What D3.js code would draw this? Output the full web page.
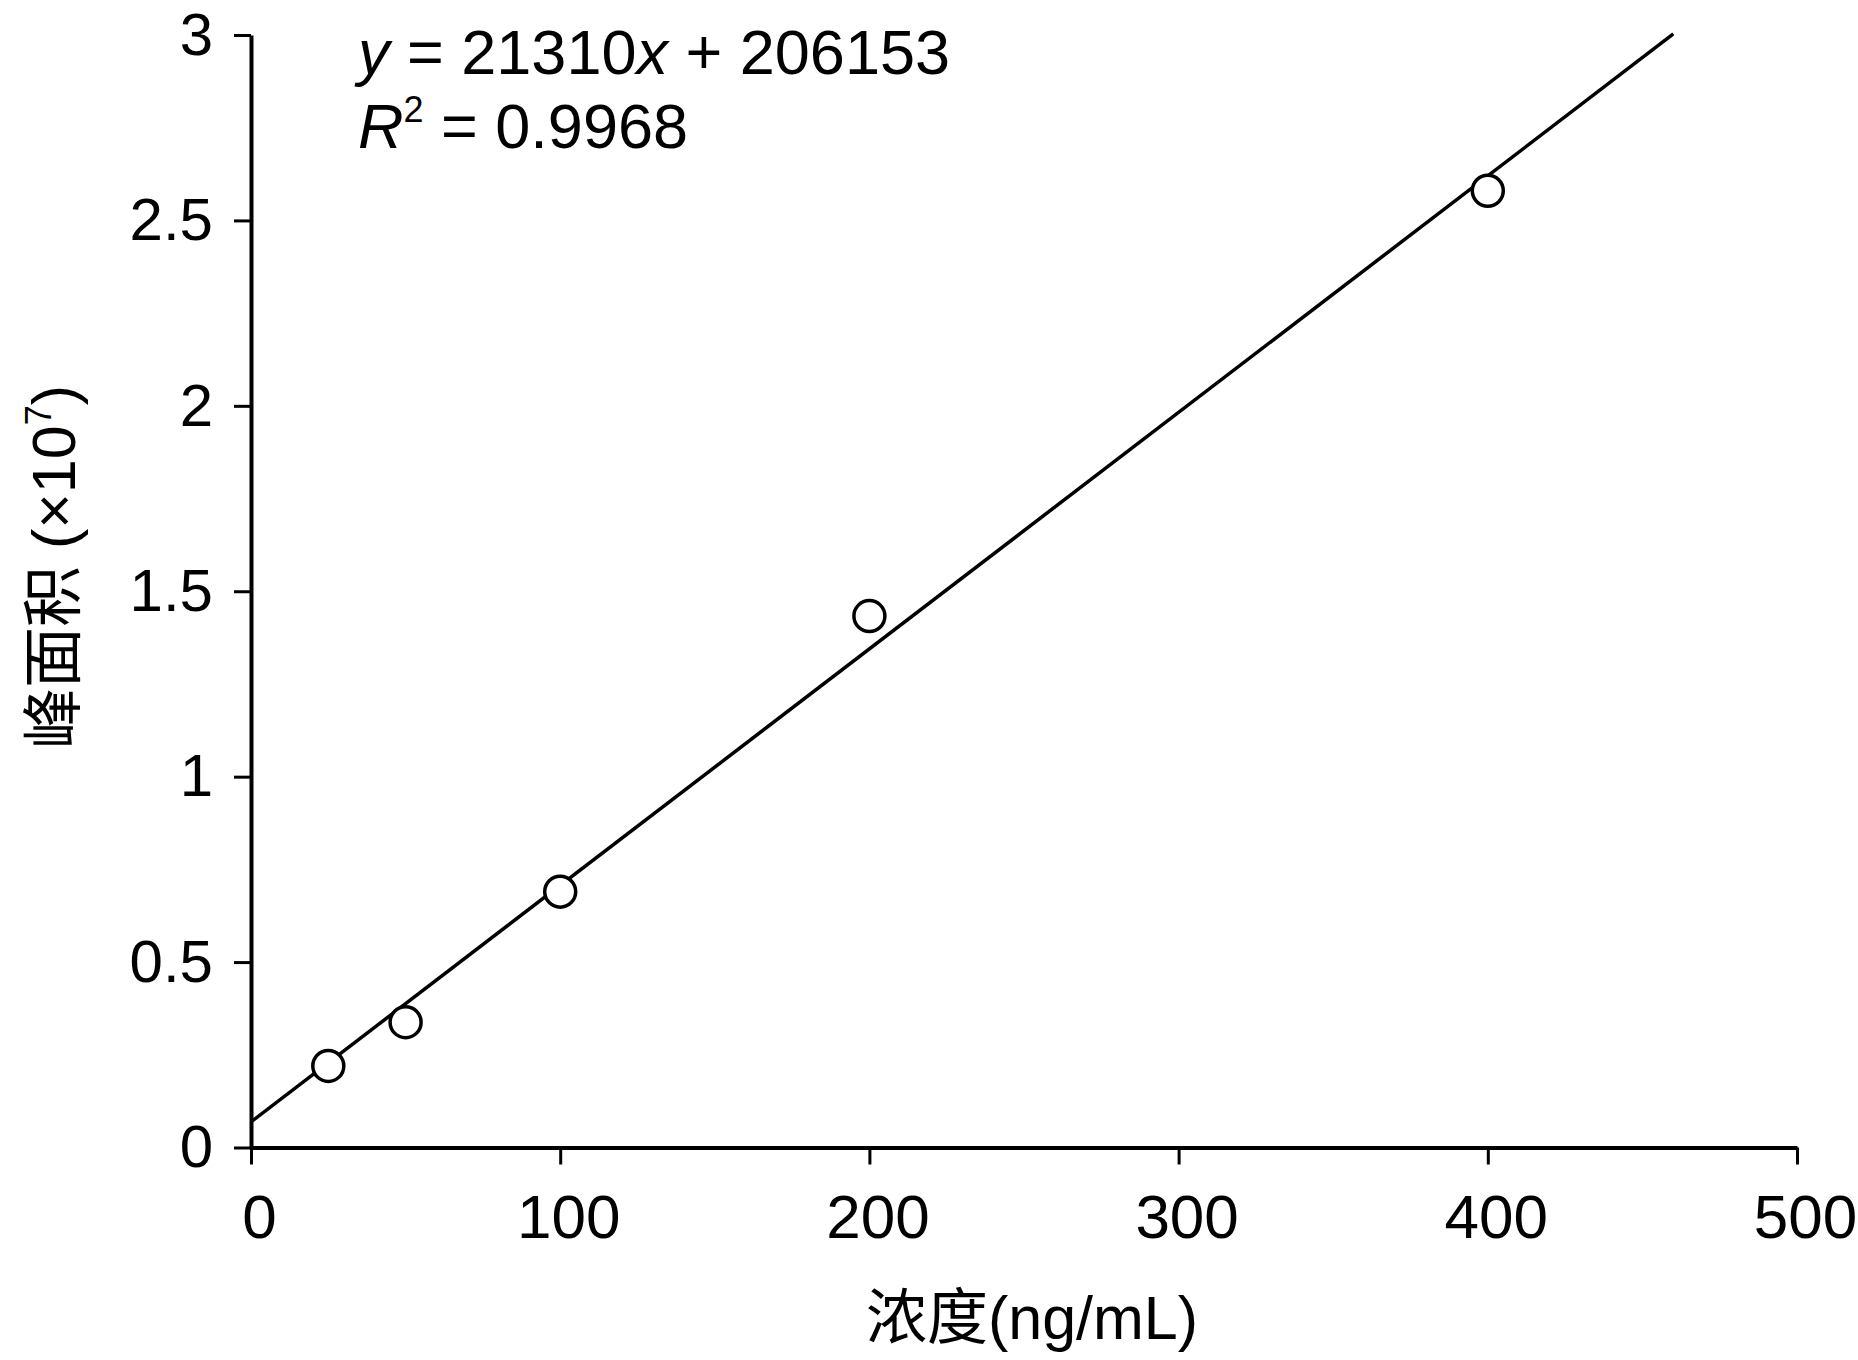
<html>
<head>
  <meta charset="utf-8">
  <script src="https://d3js.org/d3.v7.min.js"></script>
  <style>
    body { margin: 0; background: #fff; }
  </style>
</head>
<body>
<div id="calib"></div>
<script>
  // data (peak area in units of 1e7)
  const concentrations = [25, 50, 100, 200, 400];
  const peakAreas = [0.220, 0.338, 0.690, 1.433, 2.580];
  const xTicks = [0, 100, 200, 300, 400, 500];
  const yTicks = [0, 0.5, 1, 1.5, 2, 2.5, 3];
  // fitted line as drawn (intercept, slope, end of line on x)
  const fitIntercept = 0.069;
  const fitSlope = 0.006378;
  const fitRange = [0, 460];
  const eqText = ["21310", "206153"];
  const r2Text = "0.9968";

  const latin = "'Liberation Sans', Arial, sans-serif";
  const cjk = "'Liberation Sans', 'Noto Sans CJK SC', sans-serif";

  let svg = d3.select("#calib").append("svg").attr("width", 1858).attr("height", 1360);
  let padding = { top: 35, right: 61, bottom: 212.5, left: 251 };
  const width = +svg.attr("width");
  const height = +svg.attr("height");
  const chartRight = width - padding.right;
  const chartBottom = height - padding.bottom;

  let xScale = d3.scaleLinear().domain([0, 500]).range([padding.left, chartRight]);
  let yScale = d3.scaleLinear().domain([0, 3]).range([chartBottom, padding.top]);

  //xAxis
  let bottomAxis = d3.axisBottom(xScale).tickValues(xTicks).tickSize(17).tickSizeOuter(0).tickPadding(29.6);
  let gx = svg.append("g")
     .attr("transform", "translate(0," + chartBottom + ")")
     .call(bottomAxis);
  gx.select(".domain").attr("stroke-width", 4);
  gx.selectAll(".tick line").attr("stroke-width", 3);
  gx.selectAll(".tick text")
    .attr("font-family", latin).attr("font-size", 62).attr("fill", "#000").attr("dx", 8);

  //yAxis
  let leftAxis = d3.axisLeft(yScale).tickValues(yTicks).tickSize(17).tickSizeOuter(0).tickPadding(21)
     .tickFormat(d => String(d));
  let gy = svg.append("g")
     .attr("transform", "translate(" + padding.left + ",0)")
     .call(leftAxis);
  gy.select(".domain").attr("stroke-width", 4);
  gy.selectAll(".tick line").attr("stroke-width", 3);
  gy.selectAll(".tick text")
    .attr("font-family", latin).attr("font-size", 60).attr("fill", "#000");

  //xAxis label
  svg.append("text")
     .attr("x", (padding.left + chartRight) / 2 + 8)
     .attr("y", 1339)
     .attr("text-anchor", "middle")
     .attr("font-family", cjk)
     .attr("font-size", 61)
     .text("浓度(ng/mL)");

  //yAxis label
  let yt = svg.append("text")
     .attr("transform", "translate(75,567) rotate(-90)")
     .attr("text-anchor", "middle")
     .attr("font-family", cjk)
     .attr("font-size", 61);
  yt.append("tspan").text("峰面积 (×10");
  yt.append("tspan").attr("font-size", 36).attr("dy", -24).text("7");
  yt.append("tspan").attr("dy", 24).text(")");

  //fit line
  svg.append("line")
     .attr("x1", xScale(fitRange[0]))
     .attr("y1", yScale(fitIntercept + fitSlope * fitRange[0]))
     .attr("x2", xScale(fitRange[1]))
     .attr("y2", yScale(fitIntercept + fitSlope * fitRange[1]))
     .attr("stroke", "#000")
     .attr("stroke-width", 3.5);

  //points
  svg.selectAll("circle")
     .data(concentrations)
     .enter()
     .append("circle")
      .attr("cx", d => xScale(d))
      .attr("cy", (d, i) => yScale(peakAreas[i]))
      .attr("r", 15.5)
      .attr("fill", "#fff")
      .attr("stroke", "#000")
      .attr("stroke-width", 3.5);

  //equation
  let eq = svg.append("text")
     .attr("x", 358).attr("y", 73.5)
     .attr("font-family", latin).attr("font-size", 63);
  eq.append("tspan").attr("font-style", "italic").text("y");
  eq.append("tspan").text(" = " + eqText[0]);
  eq.append("tspan").attr("font-style", "italic").text("x");
  eq.append("tspan").text(" + " + eqText[1]);

  let r2 = svg.append("text")
     .attr("x", 358).attr("y", 148)
     .attr("font-family", latin).attr("font-size", 63);
  r2.append("tspan").attr("font-style", "italic").text("R");
  r2.append("tspan").attr("font-size", 36).attr("dy", -26).text("2");
  r2.append("tspan").attr("dy", 26).text(" = " + r2Text);
</script>
</body>
</html>
